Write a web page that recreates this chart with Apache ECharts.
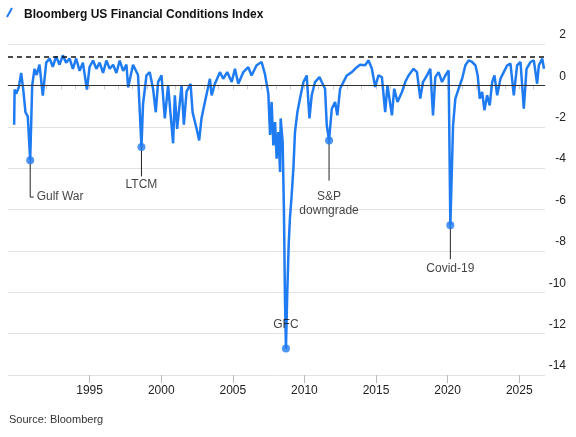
<!DOCTYPE html>
<html>
<head>
<meta charset="utf-8">
<script src="https://cdn.jsdelivr.net/npm/echarts@6/dist/echarts.min.js"></script>
<style>
  html, body { margin: 0; padding: 0; background: #fff; }
  #chart { width: 576px; height: 437px; }
</style>
</head>
<body>
<div id="chart"></div>
<script>
// index readings, [year, value]
var fciData = [
  [1989.73,-1.9],[1989.76,-0.2],[1989.87,-0.4],[1990.05,-0.1],[1990.22,0.6],[1990.38,-0.3],
  [1990.52,-1.3],[1990.68,-1.5],[1990.85,-3.62],[1990.99,0.0],[1991.15,0.8],[1991.3,0.5],
  [1991.5,1.0],[1991.73,-0.5],[1991.97,1.1],[1992.2,1.3],[1992.43,0.9],[1992.66,1.4],
  [1992.9,1.0],[1993.13,1.45],[1993.36,1.1],[1993.6,1.3],[1993.83,0.8],[1994.06,1.3],
  [1994.3,0.7],[1994.53,1.1],[1994.81,-0.2],[1995.0,0.9],[1995.24,1.2],[1995.47,0.8],
  [1995.7,1.1],[1995.94,0.6],[1996.17,1.2],[1996.4,0.8],[1996.64,1.0],[1996.87,0.6],
  [1997.1,1.2],[1997.34,0.7],[1997.57,1.0],[1997.69,-0.1],[1998.03,1.0],[1998.38,0.5],
  [1998.62,-2.98],[1998.73,-0.9],[1998.97,0.48],[1999.2,0.64],[1999.43,-0.16],[1999.62,-1.3],
  [1999.78,0.16],[2000.02,0.48],[2000.25,-1.6],[2000.48,0.0],[2000.83,-2.8],[2000.95,-0.48],
  [2001.11,-2.1],[2001.42,0.0],[2001.58,-1.9],[2001.77,-0.3],[2002.05,0.08],[2002.19,-1.3],
  [2002.47,-2.1],[2002.65,-2.66],[2002.81,-1.6],[2003.05,-0.8],[2003.4,0.32],[2003.52,-0.48],
  [2003.75,0.08],[2004.1,0.64],[2004.33,0.32],[2004.61,0.64],[2004.92,0.16],[2005.15,0.8],
  [2005.38,0.08],[2005.73,0.64],[2006.08,0.88],[2006.31,0.48],[2006.66,0.97],[2007.01,1.13],
  [2007.24,0.56],[2007.36,0.64],[2007.48,-0.4],[2007.6,-2.4],[2007.71,-0.8],[2007.83,-2.9],
  [2007.95,-1.77],[2008.06,-3.54],[2008.18,-2.26],[2008.3,-4.19],[2008.34,-1.6],[2008.48,-2.74],
  [2008.57,-6.1],[2008.64,-10.3],[2008.71,-12.72],[2008.8,-10.1],[2008.9,-7.7],[2008.99,-6.4],
  [2009.11,-5.3],[2009.23,-4.0],[2009.34,-2.26],[2009.51,-1.29],[2009.69,-0.64],[2009.93,0.16],
  [2010.16,0.48],[2010.35,-1.6],[2010.51,-0.48],[2010.74,0.16],[2011.05,0.4],[2011.21,0.16],
  [2011.44,-0.16],[2011.56,-1.93],[2011.72,-2.66],[2011.91,-1.13],[2012.14,-0.8],[2012.3,-1.45],
  [2012.49,-0.16],[2012.72,0.16],[2012.96,0.48],[2013.31,0.64],[2013.66,0.88],[2013.89,1.0],
  [2014.24,0.97],[2014.47,1.21],[2014.71,0.8],[2014.94,-0.08],[2015.17,0.48],[2015.41,0.4],
  [2015.64,-1.29],[2015.8,0.0],[2016.11,-1.45],[2016.27,-0.16],[2016.5,-0.8],[2016.81,-0.32],
  [2017.04,0.16],[2017.27,0.48],[2017.62,0.8],[2017.86,0.64],[2018.09,-0.64],[2018.28,0.16],
  [2018.56,0.48],[2018.79,0.8],[2018.98,-1.45],[2019.14,0.4],[2019.37,0.64],[2019.61,0.16],
  [2019.84,0.48],[2020.07,0.72],[2020.19,-6.76],[2020.38,-1.93],[2020.54,-0.64],[2020.77,-0.16],
  [2021.01,0.32],[2021.24,0.97],[2021.47,1.21],[2021.71,1.13],[2021.94,0.97],[2022.1,0.48],
  [2022.24,-0.64],[2022.41,-0.32],[2022.57,-1.2],[2022.76,-0.48],[2022.94,-0.97],[2023.11,0.16],
  [2023.27,0.48],[2023.46,-0.48],[2023.69,0.32],[2023.92,0.64],[2024.16,0.97],[2024.39,1.05],
  [2024.62,-0.48],[2024.85,0.97],[2025.09,1.13],[2025.32,-1.13],[2025.51,0.8],[2025.79,1.13],
  [2026.02,1.21],[2026.25,0.08],[2026.37,0.97],[2026.61,1.29],[2026.73,0.8]
];

var eventNames = ["Gulf War", "LTCM", "GFC", "S&P\ndowngrade", "Covid-19"];
var eventPoints = [[1990.85,-3.62],[1998.62,-2.98],[2008.71,-12.72],[2011.72,-2.66],[2020.19,-6.76]];
// where each label sits, and the elbow of its leader line
var labelPoints = [[1991.3,-5.4],[1998.62,-4.8],[2008.71,-11.55],[2011.72,-5.7],[2020.19,-8.85]];
var leaderEnds = [[[1990.85,-5.4],[1991.1,-5.4]],[[1998.62,-4.4]],[[2008.71,-11.9]],[[2011.72,-4.6]],[[2020.19,-8.4]]];

var yearTicks = [];
for (var y = 1990; y <= 2026; y++) yearTicks.push(y);
var labelYears = [1995, 2000, 2005, 2010, 2015, 2020, 2025];
var thresholdLine = 1.37;

var leaderData = [];
for (var i = 0; i < eventPoints.length; i++) {
  leaderData.push(eventPoints[i]);
  leaderEnds[i].forEach(function (p) { leaderData.push(p); });
  leaderData.push('-');
}

var chart = echarts.init(document.getElementById('chart'));
var fontFam = 'Liberation Sans, Arial, sans-serif';
chart.setOption({
  animation: false,
  textStyle: { fontFamily: fontFam },
  title: {
    text: 'Bloomberg US Financial Conditions Index',
    left: 19, top: 4,
    textStyle: { fontSize: 12, fontWeight: 'bold', color: '#111', fontFamily: fontFam }
  },
  graphic: [
    { type: 'line', shape: { x1: 7, y1: 17, x2: 12, y2: 8 }, style: { stroke: '#1f7bf2', lineWidth: 2 } },
    { type: 'text', left: 9, top: 414, style: { text: 'Source: Bloomberg', fontSize: 11, fill: '#333', fontFamily: fontFam } }
  ],
  grid: { left: 8, right: 31, top: 44, bottom: 62 },
  xAxis: [{
    type: 'value', min: 1989.3, max: 2026.8,
    splitLine: { show: false },
    axisLine: { lineStyle: { color: '#bbb' } },
    axisTick: { customValues: yearTicks, length: 4, lineStyle: { color: '#ccc' } },
    axisLabel: { show: false }
  }, {
    type: 'value', min: 1989.3, max: 2026.8, position: 'bottom',
    splitLine: { show: false },
    axisLine: { show: false },
    axisTick: { customValues: labelYears, length: 8, lineStyle: { color: '#bbb' } },
    axisLabel: {
      customValues: labelYears, margin: 10, fontSize: 12, color: '#222',
      formatter: function (v) { return String(v); }
    }
  }],
  yAxis: {
    type: 'value', min: -14, max: 2, interval: 2, position: 'right',
    axisLine: { show: false }, axisTick: { show: false },
    splitLine: { lineStyle: { color: '#e2e2e2' } },
    axisLabel: { align: 'right', margin: 21, verticalAlign: 'bottom', padding: [0, 0, 3, 0], fontSize: 12, color: '#222' }
  },
  series: [{
    type: 'line', data: fciData, symbol: 'none',
    lineStyle: { color: '#1f7bf2', width: 2.5 },
    markLine: {
      silent: true, symbol: 'none', label: { show: false },
      data: [
        { yAxis: 0, lineStyle: { color: '#333', width: 1, type: 'solid' } },
        { yAxis: thresholdLine, lineStyle: { color: '#111', width: 1.5, type: [5, 4] } }
      ]
    },
    z: 3
  }, {
    type: 'line', data: leaderData, symbol: 'none', connectNulls: false,
    lineStyle: { color: '#222', width: 1 }, z: 2
  }, {
    type: 'scatter', data: eventPoints, symbolSize: 8,
    itemStyle: { color: '#1f7bf2' }, z: 4
  }, {
    type: 'scatter', symbolSize: 0,
    data: labelPoints.map(function (p, i) {
      var d = { value: p, name: eventNames[i] };
      if (i === 0) d.label = { position: 'right', distance: 0 };
      return d;
    }),
    label: {
      show: true, formatter: '{b}', fontSize: 12, color: '#111', lineHeight: 14,
      position: 'inside'
    },
    z: 5
  }]
});
</script>
</body>
</html>
